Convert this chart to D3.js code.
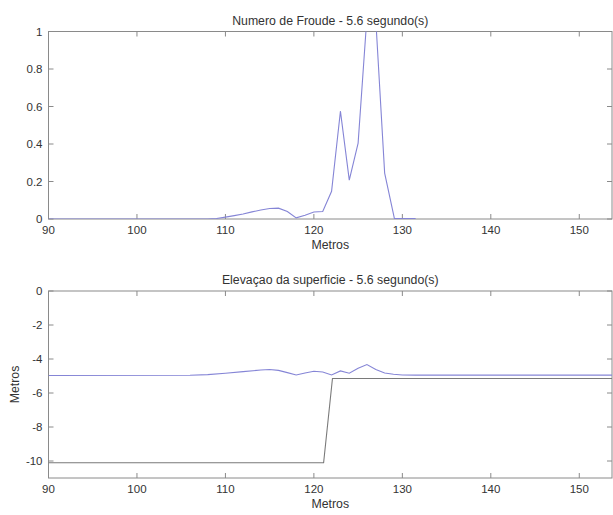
<!DOCTYPE html>
<html><head><meta charset="utf-8">
<script src="https://cdn.jsdelivr.net/npm/d3@7"></script>
<style>
html,body{margin:0;padding:0;background:#fff;}
svg{display:block;font-family:"Liberation Sans",Arial,sans-serif;}
</style></head>
<body>
<script>
// ---- data ----
const titleTop = "Numero de Froude - 5.6 segundo(s)";
const titleBottom = "Elevaçao da superficie - 5.6 segundo(s)";
const xLabel = "Metros";
const yLabelBottom = "Metros";
const xDomain = [90, 153.7];
const xTicks = [90, 100, 110, 120, 130, 140, 150];
const topYTicks = [0, 0.2, 0.4, 0.6, 0.8, 1];
const bottomYTicks = [0, -2, -4, -6, -8, -10];

const froudeX = [90, 108, 109, 110, 111, 112, 113, 114, 115, 116, 117, 118, 119, 120, 121, 122, 123, 124, 125, 126, 127, 128, 129.1, 130, 131.5];
const froudeY = [0, 0, 0.003, 0.01, 0.018, 0.027, 0.038, 0.048, 0.056, 0.058, 0.04, 0.006, 0.02, 0.037, 0.04, 0.148, 0.575, 0.207, 0.405, 1.08, 1.06, 0.245, 0.003, 0.002, 0.002];

const surfX = [90, 106, 108, 110, 112, 114, 115, 116, 117, 118, 119, 120, 121, 122, 123, 124, 125, 126, 127, 128, 129, 130, 131.5, 153.7];
const surfY = [-4.97, -4.96, -4.92, -4.84, -4.74, -4.65, -4.62, -4.67, -4.8, -4.94, -4.82, -4.72, -4.76, -4.94, -4.7, -4.84, -4.55, -4.33, -4.62, -4.82, -4.9, -4.94, -4.95, -4.95];

const bedX = [90, 121.1, 122.1, 153.7];
const bedY = [-10.1, -10.1, -5.15, -5.15];

// ---- layout ----
const W = 613, H = 515;
const svg = d3.select("body").append("svg").attr("width", W).attr("height", H);
const axisColor = "#8a8a8a", textColor = "#333";
const blue = "#8585d6", gray = "#7a7a7a";

const left = 48.5, right = 612;
const x = d3.scaleLinear().domain(xDomain).range([left, right]);

function panel(opts) {
  const y = d3.scaleLinear().domain(opts.yDomain).range([opts.bottom, opts.top]);
  const g = svg.append("g");
  const clipId = "clip" + opts.id;
  svg.append("defs").append("clipPath").attr("id", clipId)
    .append("rect").attr("x", left).attr("y", opts.top).attr("width", right - left).attr("height", opts.bottom - opts.top);

  g.append("rect").attr("x", left).attr("y", opts.top).attr("width", right - left).attr("height", opts.bottom - opts.top)
    .attr("fill", "none").attr("stroke", axisColor).attr("stroke-width", 1);

  const tl = 5;
  xTicks.forEach(t => {
    g.append("line").attr("x1", x(t)).attr("x2", x(t)).attr("y1", opts.bottom).attr("y2", opts.bottom - tl).attr("stroke", axisColor);
    g.append("line").attr("x1", x(t)).attr("x2", x(t)).attr("y1", opts.top).attr("y2", opts.top + tl).attr("stroke", axisColor);
    g.append("text").attr("x", x(t)).attr("y", opts.bottom + 15).attr("text-anchor", "middle")
      .attr("font-size", 11.5).attr("fill", textColor).text(t);
  });
  opts.yTicks.forEach(t => {
    g.append("line").attr("x1", left).attr("x2", left + tl).attr("y1", y(t)).attr("y2", y(t)).attr("stroke", axisColor);
    g.append("line").attr("x1", right).attr("x2", right - tl).attr("y1", y(t)).attr("y2", y(t)).attr("stroke", axisColor);
    g.append("text").attr("x", left - 6).attr("y", y(t) + 4).attr("text-anchor", "end")
      .attr("font-size", 11.5).attr("fill", textColor).text(t);
  });

  const line = d3.line().x(d => x(d[0])).y(d => y(d[1]));
  opts.series.forEach(s => {
    g.append("path").attr("d", line(s.xs.map((v, i) => [v, s.ys[i]])))
      .attr("fill", "none").attr("stroke", s.color).attr("stroke-width", 1.1)
      .attr("clip-path", `url(#${clipId})`);
  });

  g.append("text").attr("x", (left + right) / 2).attr("y", opts.top - 7).attr("text-anchor", "middle")
    .attr("font-size", 12.3).attr("fill", textColor).text(opts.title);
  g.append("text").attr("x", (left + right) / 2).attr("y", opts.bottom + 30).attr("text-anchor", "middle")
    .attr("font-size", 12.3).attr("fill", textColor).text(xLabel);
  if (opts.ylabel) {
    const cy = (opts.top + opts.bottom) / 2;
    g.append("text").attr("transform", `translate(19,${cy}) rotate(-90)`).attr("text-anchor", "middle")
      .attr("font-size", 12.3).attr("fill", textColor).text(opts.ylabel);
  }
}

panel({id: 1, top: 31.5, bottom: 219, yDomain: [0, 1], yTicks: topYTicks, title: titleTop,
  series: [{xs: froudeX, ys: froudeY, color: blue}]});
panel({id: 2, top: 291, bottom: 478, yDomain: [-11, 0], yTicks: bottomYTicks, title: titleBottom, ylabel: yLabelBottom,
  series: [{xs: bedX, ys: bedY, color: gray}, {xs: surfX, ys: surfY, color: blue}]});
</script>
</body></html>
